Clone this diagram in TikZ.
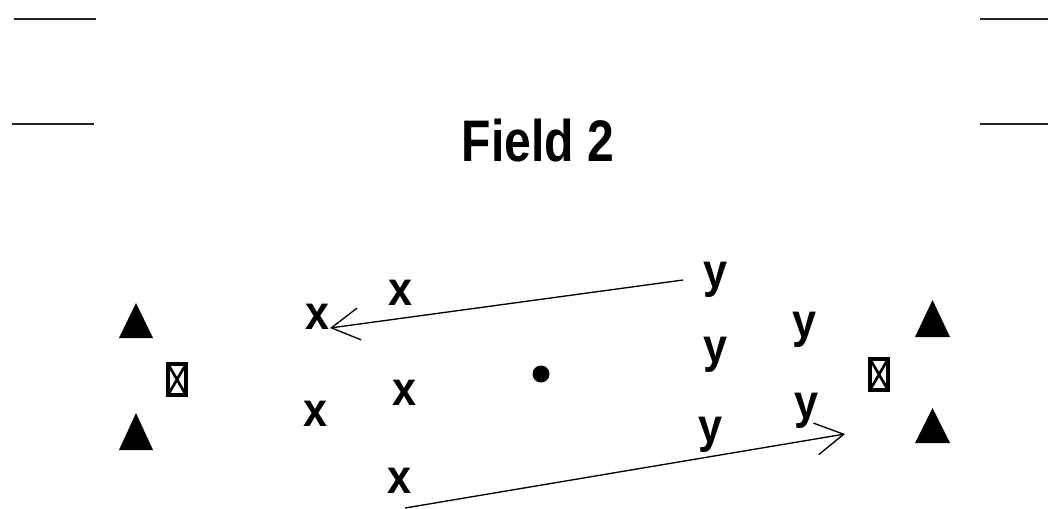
\documentclass[tikz,border=0pt]{standalone}
\usepackage{fontspec}
\setmainfont{Liberation Sans}
\usetikzlibrary{arrows.meta}
\newcommand{\plyr}[1]{\scalebox{0.9}[1]{\fontsize{36}{36}\selectfont\bfseries #1}}

\begin{document}
\begin{tikzpicture}[x=0.75pt,y=-0.75pt,
    player/.style={inner sep=0pt},
    run/.style={line width=1pt,-{Straight Barb[length=21pt,width=24pt,line width=1pt]}},
    yardline/.style={line width=1.6pt,draw=black!85},
    goalbox/.style={draw,line width=3pt}]
    \useasboundingbox (0,0) rectangle (1048,508);
    \draw [yardline] (14,19) -- (96,19); \draw [yardline] (12,124) -- (94,124);
    \draw [yardline] (980,19) -- (1048,19); \draw [yardline] (980,124) -- (1048,124);
    \node (title) at (538,141) {\scalebox{0.82}[1]{\fontsize{44}{44}\selectfont\bfseries Field 2}};
    % cones and goals
    \fill (119,338) -- (153,338) -- (136,303) -- cycle;
    \fill (119,450) -- (153,450) -- (136,413) -- cycle;
    \fill (915,337) -- (950,337) -- (932.5,300) -- cycle;
    \fill (915,443) -- (950,443) -- (932.5,408) -- cycle;
    \draw [goalbox] (168,364) rectangle (186,395);
    \draw [line width=2pt] (168,364) -- (186,395) (186,364) -- (168,395);
    \draw [goalbox] (870,359) rectangle (888,390);
    \draw [line width=2pt] (870,359) -- (888,390) (888,359) -- (870,390);
    \fill (541,374) circle (8.5);
    % players
    \node [player] (xa) at (318,317) {\plyr{x}};
    \node [player] (xb) at (401,293) {\plyr{x}};
    \node [player] (xc) at (405,393) {\plyr{x}};
    \node [player] (xd) at (316,414) {\plyr{x}};
    \node [player] (xe) at (400,481) {\plyr{x}};
    \node [player] (ya) at (716,280) {\plyr{y}};
    \node [player] (yb) at (716,355) {\plyr{y}};
    \node [player] (yc) at (804,330) {\plyr{y}};
    \node [player] (yd) at (711,435) {\plyr{y}};
    \node [player] (ye) at (806,411) {\plyr{y}};
    % runs
    \coordinate (runAs) at (683,280); \coordinate (runAe) at (330,328);
    \coordinate (runBs) at (405,508); \coordinate (runBe) at (845,434);
    \draw [run] (runAs) -- (runAe);
    \draw [run] (runBs) -- (runBe);
\end{tikzpicture}
\end{document}
